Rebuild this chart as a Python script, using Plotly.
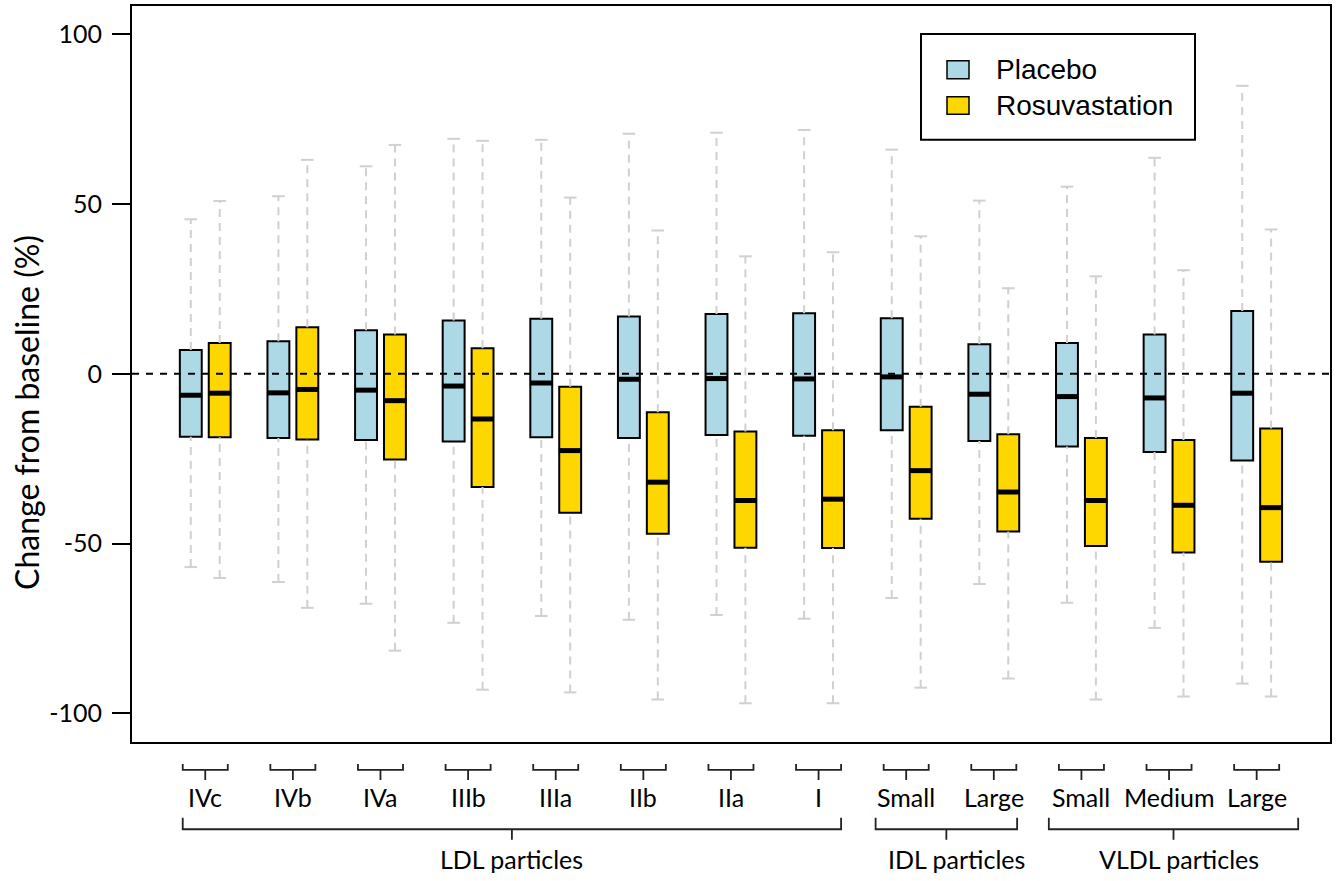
import plotly.graph_objects as go

# ---------------- data ----------------
categories = ["IVc", "IVb", "IVa", "IIIb", "IIIa", "IIb", "IIa", "I",
              "Small", "Large", "Small", "Medium", "Large"]
group_names = ["LDL particles", "IDL particles", "VLDL particles"]
group_spans = [(0, 7), (8, 9), (10, 12)]          # category index ranges

series_names = ["Placebo", "Rosuvastation"]

placebo_upper = [45.5, 52.3, 61.1, 69.2, 68.9, 70.7, 71.0, 71.8, 66.0, 51.0, 55.1, 63.6, 84.8]
placebo_q3 = [7.0, 9.6, 12.8, 15.7, 16.2, 16.9, 17.6, 17.8, 16.4, 8.7, 9.1, 11.6, 18.5]
placebo_median = [-6.3, -5.6, -4.8, -3.6, -2.7, -1.6, -1.4, -1.5, -0.9, -6.0, -6.7, -7.1, -5.7]
placebo_q1 = [-18.5, -18.9, -19.5, -19.9, -18.7, -18.9, -18.0, -18.2, -16.6, -19.8, -21.4, -23.0, -25.5]
placebo_lower = [-56.9, -61.3, -67.7, -73.3, -71.3, -72.4, -71.0, -72.1, -66.0, -61.9, -67.4, -74.8, -91.2]

rosu_upper = [50.9, 63.0, 67.4, 68.6, 51.9, 42.2, 34.6, 35.8, 40.5, 25.2, 28.7, 30.5, 42.5]
rosu_q3 = [9.1, 13.7, 11.6, 7.5, -3.8, -11.3, -17.0, -16.6, -9.7, -17.8, -18.9, -19.5, -16.1]
rosu_median = [-5.7, -4.6, -7.9, -13.3, -22.6, -31.9, -37.3, -36.9, -28.5, -34.8, -37.3, -38.7, -39.4]
rosu_q1 = [-18.7, -19.3, -25.2, -33.3, -40.9, -47.1, -51.2, -51.3, -42.7, -46.4, -50.7, -52.6, -55.3]
rosu_lower = [-60.1, -68.9, -81.5, -93.0, -93.8, -95.9, -97.0, -97.0, -92.4, -89.7, -95.9, -95.0, -95.0]

y_ticks = [-100, -50, 0, 50, 100]
y_title = "Change from baseline (%)"

# ---------------- styling / layout constants ----------------
W, H = 1336, 881
ML, MR, MT, MB = 132, 6, 4, 139
PW, PH = W - ML - MR, H - MT - MB
colors = ["#ADD8E6", "#FFD700"]
offsets = [-0.165, 0.165]
box_w = 0.25
med_hw = 0.13
cap_hw = 0.072
label_font = "Lato, 'Open Sans', sans-serif"
legend_font = "'Liberation Sans', Arial, sans-serif"


def px2x(px):
    return (px - ML) / PW


def py2y(py):
    return (H - MB - py) / PH


fig = go.Figure()

series = [
    (placebo_lower, placebo_q1, placebo_median, placebo_q3, placebo_upper),
    (rosu_lower, rosu_q1, rosu_median, rosu_q3, rosu_upper),
]

for s, (lo, q1, med, q3, up) in enumerate(series):
    pos = [i + offsets[s] for i in range(len(categories))]
    # boxes (no whiskers; they are drawn dashed below)
    fig.add_trace(go.Box(
        x=pos, q1=q1, median=med, q3=q3, lowerfence=q1, upperfence=q3,
        width=box_w, fillcolor=colors[s], line=dict(color="black", width=2),
        whiskerwidth=0, boxpoints=False, name=series_names[s], showlegend=False,
    ))
    # dashed whiskers
    wx, wy = [], []
    for p, a, b, c, d in zip(pos, lo, q1, q3, up):
        wx += [p, p, None, p, p, None]
        wy += [c, d, None, a, b, None]
    fig.add_trace(go.Scatter(x=wx, y=wy, mode="lines", showlegend=False, hoverinfo="skip",
                             line=dict(color="#d0d0d0", width=2, dash="8px,6px")))
    # whisker caps
    cx, cy = [], []
    for p, a, d in zip(pos, lo, up):
        cx += [p - cap_hw, p + cap_hw, None, p - cap_hw, p + cap_hw, None]
        cy += [d, d, None, a, a, None]
    fig.add_trace(go.Scatter(x=cx, y=cy, mode="lines", showlegend=False, hoverinfo="skip",
                             line=dict(color="#d0d0d0", width=2)))
    # thick medians
    mx, my = [], []
    for p, m in zip(pos, med):
        mx += [p - med_hw, p + med_hw, None]
        my += [m, m, None]
    fig.add_trace(go.Scatter(x=mx, y=my, mode="lines", showlegend=False, hoverinfo="skip",
                             line=dict(color="black", width=5)))

shapes = []
# zero reference line
shapes.append(dict(type="line", xref="paper", yref="y", x0=0, x1=1, y0=0, y1=0,
                   line=dict(color="black", width=2, dash="7px,7px")))

# small brackets under each category
sb_hw = 0.257
y_end, y_h, y_tip = py2y(764), py2y(770), py2y(780)
for i in range(len(categories)):
    a, b = i - sb_hw, i + sb_hw
    shapes.append(dict(type="path", xref="x", yref="paper",
                       path=f"M{a},{y_end} L{a},{y_h} L{b},{y_h} L{b},{y_end} M{i},{y_h} L{i},{y_tip}",
                       line=dict(color="#222222", width=1.8)))

# group brackets
group_bracket_x = [(-0.257, 7.257), (7.651, 9.266), (9.628, 12.474)]
group_label_x = [3.5, 8.57, 11.11]
gy_end, gy_h, gy_tip = py2y(818), py2y(829.5), py2y(840)
for (a, b) in group_bracket_x:
    c = (a + b) / 2
    shapes.append(dict(type="path", xref="x", yref="paper",
                       path=f"M{a},{gy_end} L{a},{gy_h} L{b},{gy_h} L{b},{gy_end} M{c},{gy_h} L{c},{gy_tip}",
                       line=dict(color="#222222", width=1.8)))

# legend (drawn manually)
shapes.append(dict(type="rect", xref="paper", yref="paper",
                   x0=px2x(921), x1=px2x(1195), y0=py2y(138), y1=py2y(32),
                   fillcolor="white", line=dict(color="black", width=2)))
leg_rows = [(59, 77), (95, 112.5)]
for s, (t, b) in enumerate(leg_rows):
    shapes.append(dict(type="rect", xref="paper", yref="paper",
                       x0=px2x(947), x1=px2x(969), y0=py2y(b), y1=py2y(t),
                       fillcolor=colors[s], line=dict(color="black", width=1.5)))

annotations = []
for s, (t, b) in enumerate(leg_rows):
    annotations.append(dict(xref="paper", yref="paper", x=px2x(994), y=py2y((t + b) / 2),
                            xanchor="left", yanchor="middle", showarrow=False,
                            text=series_names[s], font=dict(family=legend_font, size=28, color="black")))

for i, c in enumerate(categories):
    annotations.append(dict(xref="x", yref="paper", x=i, y=py2y(797), xanchor="center",
                            yanchor="middle", showarrow=False, text=c,
                            font=dict(family=label_font, size=25, color="black")))
for g, name in enumerate(group_names):
    annotations.append(dict(xref="x", yref="paper", x=group_label_x[g], y=py2y(859), xanchor="center",
                            yanchor="middle", showarrow=False, text=name,
                            font=dict(family=label_font, size=25, color="black")))

annotations.append(dict(xref="paper", yref="paper", x=px2x(27), y=py2y(412), textangle=-90,
                        xanchor="center", yanchor="middle", showarrow=False, text=y_title,
                        font=dict(family=label_font, size=32, color="black")))

fig.update_layout(
    width=W, height=H,
    margin=dict(l=ML, r=MR, t=MT, b=MB),
    paper_bgcolor="white", plot_bgcolor="white",
    showlegend=False,
    xaxis=dict(range=[-0.836, 12.837], showticklabels=False, showgrid=False, zeroline=False,
               showline=True, mirror=True, linecolor="black", linewidth=2, ticks=""),
    yaxis=dict(range=[-108.4, 108.3], tickvals=y_ticks, ticktext=[str(v) for v in y_ticks],
               ticks="outside", ticklen=18, tickwidth=2, tickcolor="black",
               showgrid=False, zeroline=False, showline=True, mirror=True,
               linecolor="black", linewidth=2, ticklabelstandoff=5,
               tickfont=dict(family=label_font, size=25, color="black")),
    shapes=shapes,
    annotations=annotations,
)

fig.write_html(
    "out.html",
    config={"displayModeBar": False},
    post_script="document.body.style.margin='0';document.body.style.padding='0';"
                "document.documentElement.style.overflow='hidden';",
)
